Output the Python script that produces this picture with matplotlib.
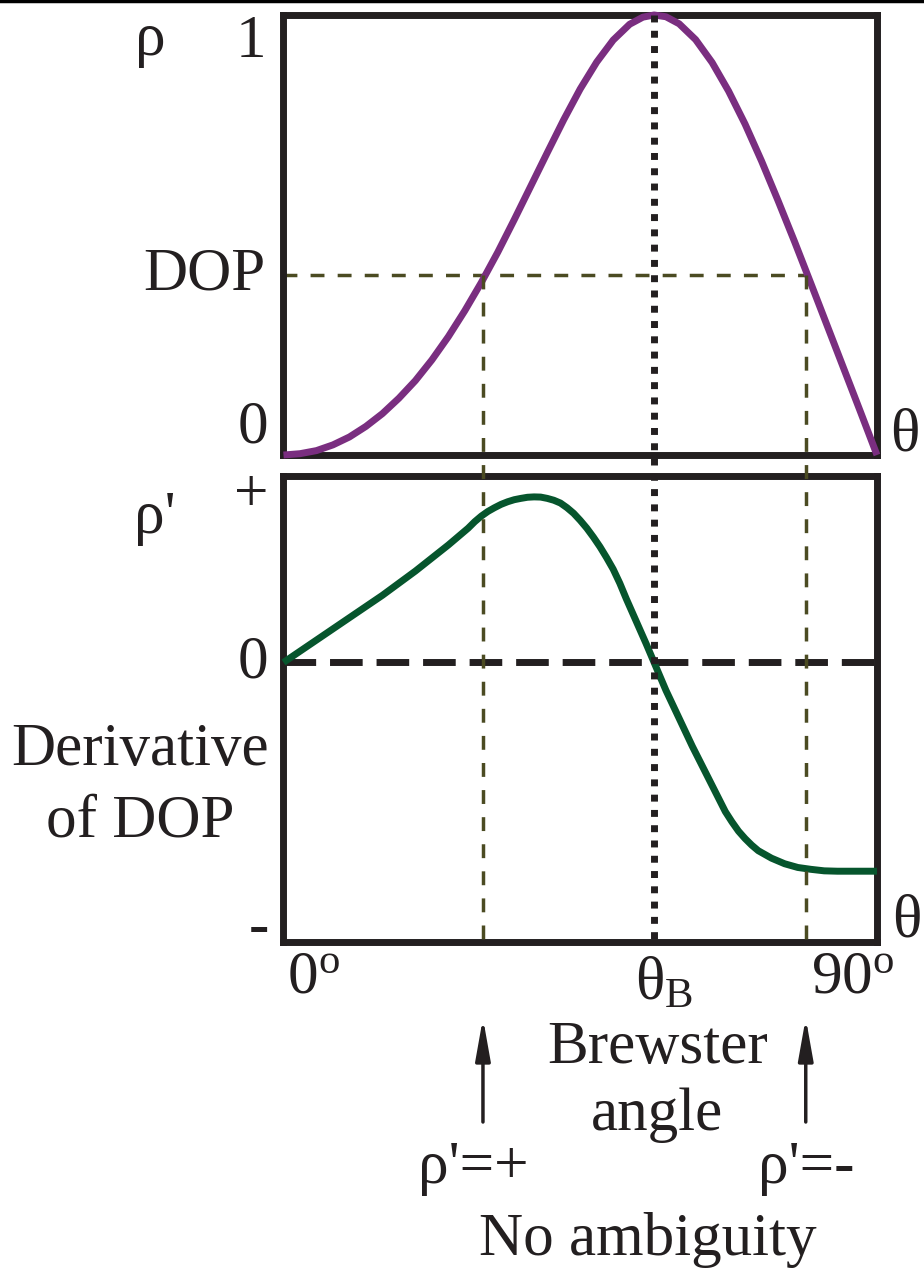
import matplotlib.pyplot as plt
from matplotlib.lines import Line2D
from matplotlib.transforms import blended_transform_factory

plt.rcParams['font.family'] = ['Liberation Serif', 'DejaVu Serif']
plt.rcParams['mathtext.fontset'] = 'custom'
plt.rcParams['mathtext.rm'] = 'Liberation Serif'
plt.rcParams['mathtext.it'] = 'Liberation Serif:italic'

# degree of polarisation vs incidence angle (deg)
theta_dop = [0, 2.5, 5, 7.5, 10, 12.5, 15, 17.5, 20, 22.5, 25, 27.5, 30, 32.5, 35, 37.5,
             40, 42.5, 45, 47.5, 50, 52.5, 54.5, 56.2, 58, 60, 62.5, 65, 67.5, 70, 72.5,
             75, 77.5, 80, 82.5, 85, 87.5, 90]
dop = [0, 0.003, 0.01, 0.023, 0.041, 0.065, 0.094, 0.129, 0.169, 0.216, 0.269, 0.328,
       0.392, 0.461, 0.535, 0.611, 0.687, 0.762, 0.832, 0.893, 0.943, 0.979, 0.995, 1.0,
       0.996, 0.98, 0.944, 0.892, 0.827, 0.752, 0.668, 0.578, 0.485, 0.389, 0.292, 0.195,
       0.098, 0]

# derivative of DOP (arbitrary units, + above / - below)
theta_der = [0, 5, 10, 15, 20, 25, 27, 28, 29, 30, 31, 32, 33, 34, 35, 36, 37, 38, 39, 40,
             41, 42, 43, 44, 45, 46, 47, 48, 49, 50, 51, 52, 53, 54, 55, 56.2, 58, 60, 62,
             64, 65, 66, 67, 68, 69, 70, 71, 72, 73, 74, 76, 78, 80, 82, 84, 90]
der = [0, 0.12, 0.24, 0.36, 0.49, 0.63, 0.69, 0.72, 0.755, 0.785, 0.81, 0.83, 0.848, 0.862,
       0.873, 0.88, 0.886, 0.888, 0.887, 0.88, 0.87, 0.855, 0.83, 0.80, 0.762, 0.72, 0.672,
       0.62, 0.562, 0.50, 0.425, 0.34, 0.26, 0.18, 0.10, 0, -0.15, -0.30, -0.45, -0.59,
       -0.66, -0.73, -0.80, -0.855, -0.905, -0.945, -0.98, -1.01, -1.03, -1.05, -1.08, -1.10,
       -1.11, -1.118, -1.12, -1.12]

theta_b = 56.2
dop_level = 0.41
theta_plus = 30.25
theta_minus = 79.2

ink = '#231f20'
olive = '#4b4b22'
purple = '#7a2e80'
green = '#06552d'
fs = 44

fig = plt.figure(figsize=(9.24, 12.81), dpi=100)
ax1 = fig.add_axes([0.3068, 0.6448, 0.6423, 0.3435])
ax2 = fig.add_axes([0.3068, 0.2646, 0.6423, 0.3638])

for ax in (ax1, ax2):
    ax.set_xlim(0, 90)
    ax.set_xticks([])
    ax.set_yticks([])
    for s in ax.spines.values():
        s.set_linewidth(5)
        s.set_color(ink)
ax1.set_ylim(0, 1)
ax2.set_ylim(-1.5, 1.0)

ax1.plot(theta_dop, dop, color=purple, lw=5, clip_on=False, zorder=4, solid_capstyle='butt')
ax2.plot(theta_der, der, color=green, lw=5, clip_on=False, zorder=4, solid_capstyle='butt')
ax2.plot([0, 90], [0, 0], color=ink, lw=5, linestyle=(0, (4.7, 2.0)), dash_capstyle='butt',
         clip_on=False, zorder=3)

# DOP level and the two angles giving it
ax1.plot([0, theta_minus], [dop_level, dop_level], color=olive, lw=2.5,
         linestyle=(0, (4, 3.8)), dash_capstyle='butt', zorder=2)
to_fig = fig.transFigure.inverted()
y_dop = to_fig.transform(ax1.transData.transform((0, dop_level)))[1]
y_top = to_fig.transform(ax1.transData.transform((0, 1)))[1]
y_bot = to_fig.transform(ax2.transData.transform((0, -1.5)))[1]
tr = blended_transform_factory(ax1.transData, fig.transFigure)
for t in (theta_plus, theta_minus):
    fig.add_artist(Line2D([t, t], [y_dop, y_bot], transform=tr, color=olive, lw=2.5,
                          linestyle=(0, (4, 3.8)), dash_capstyle='butt', zorder=2))
# Brewster angle
fig.add_artist(Line2D([theta_b, theta_b], [y_top, y_bot], transform=tr, color=ink, lw=5,
                      linestyle=(0, (1, 1.2)), dash_capstyle='butt', zorder=3))

# top rule
fig.add_artist(Line2D([0, 1], [0.9995, 0.9995], transform=fig.transFigure, color='black', lw=2.5))

# y labels
ya1 = ax1.get_yaxis_transform()
ya2 = ax2.get_yaxis_transform()
ax1.text(-0.03, 1.0, '1', transform=ya1, ha='right', va='top', fontsize=fs, color=ink)
ax1.text(-0.03, dop_level, 'DOP', transform=ya1, ha='right', va='center', fontsize=fs, color=ink)
ax1.text(-0.025, 0.0, '0', transform=ya1, ha='right', va='bottom', fontsize=fs, color=ink)
ax2.text(-0.025, 0.89, '+', transform=ya2, ha='right', va='center', fontsize=fs, color=ink)
ax2.text(-0.025, 0.0, '0', transform=ya2, ha='right', va='center', fontsize=fs, color=ink)
ax2.text(-0.025, -1.43, '-', transform=ya2, ha='right', va='center', fontsize=fs, color=ink)

fig.text(150 / 924, 1 - 40 / 1281, 'ρ', ha='center', va='center', fontsize=fs, color=ink)
fig.text(155 / 924, 1 - 518 / 1281, "ρ'", ha='center', va='center', fontsize=fs, color=ink)
fig.text(140 / 924, 1 - 750 / 1281, 'Derivative', ha='center', va='center', fontsize=fs, color=ink)
fig.text(140 / 924, 1 - 822 / 1281, 'of DOP', ha='center', va='center', fontsize=fs, color=ink)
fig.text(905 / 924, 1 - 436 / 1281, 'θ', ha='center', va='center', fontsize=fs, color=ink)
fig.text(907 / 924, 1 - 922 / 1281, 'θ', ha='center', va='center', fontsize=fs, color=ink)

# x labels
xa = blended_transform_factory(ax2.transData, fig.transFigure)
fig.text(0.6, 1 - 978 / 1281, r'0$^{\mathrm{o}}$', transform=xa, ha='left', va='center',
         fontsize=fs, color=ink)
fig.text(92.7, 1 - 978 / 1281, r'90$^{\mathrm{o}}$', transform=xa, ha='right', va='center',
         fontsize=fs, color=ink)
fig.text(theta_b + 1.5, 1 - 985 / 1281, r'θ$_{\mathrm{B}}$', transform=xa, ha='center',
         va='center', fontsize=fs, color=ink)
fig.text(theta_b + 0.5, 1 - 1048 / 1281, 'Brewster', transform=xa, ha='center', va='center',
         fontsize=fs, color=ink)
fig.text(theta_b + 0.5, 1 - 1115 / 1281, 'angle', transform=xa, ha='center', va='center',
         fontsize=fs, color=ink)
fig.text(theta_plus - 1.5, 1 - 1168 / 1281, "ρ'=+", transform=xa, ha='center', va='center',
         fontsize=fs, color=ink)
fig.text(theta_minus, 1 - 1168 / 1281, "ρ'=-", transform=xa, ha='center', va='center',
         fontsize=fs, color=ink)
fig.text(theta_b - 1, 1 - 1240 / 1281, 'No ambiguity', transform=xa, ha='center', va='center',
         fontsize=fs, color=ink)

for t in (theta_plus, theta_minus):
    ax2.annotate('', xy=(t, 1 - 1018 / 1281), xytext=(t, 1 - 1122 / 1281),
                 xycoords=xa, textcoords=xa,
                 arrowprops=dict(arrowstyle='-|>,head_length=0.9,head_width=0.16', color=ink,
                                 lw=2.5, mutation_scale=28, shrinkA=0, shrinkB=0))

fig.savefig('out.png', dpi=100, facecolor='white')
